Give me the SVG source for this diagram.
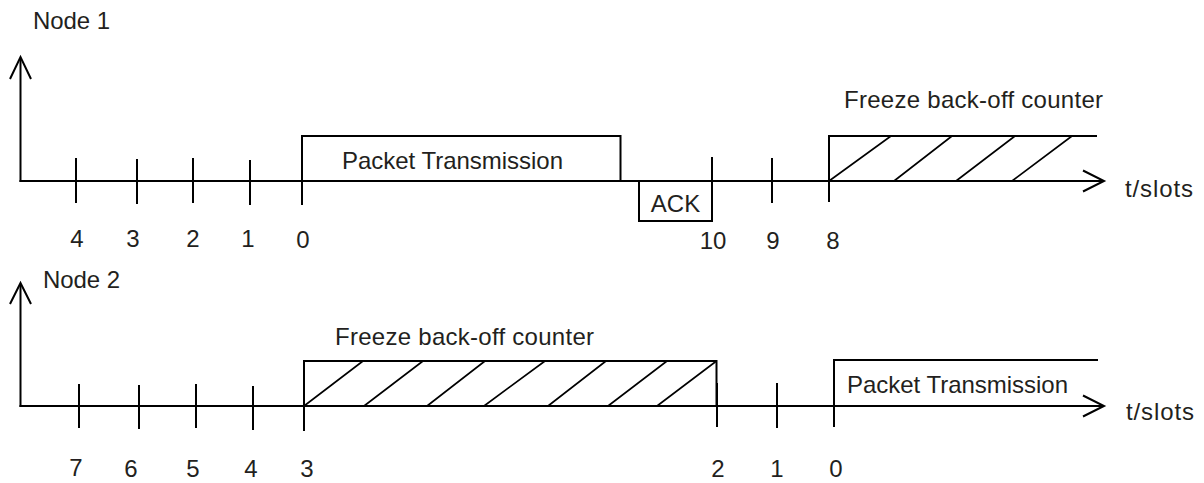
<svg xmlns="http://www.w3.org/2000/svg" width="1204" height="483" viewBox="0 0 1204 483">
  <style>
    text { font-family: "Liberation Sans", Arial, sans-serif; font-size: 24px; fill: #231f20; }
    .num { text-anchor: middle; }
    .ln { stroke: #000; stroke-width: 2; fill: none; }
    .hatch { stroke: #000; stroke-width: 1.6; fill: none; }
    .head { stroke: #000; stroke-width: 2; fill: none; stroke-linejoin: miter; }
  </style>
  <rect width="1204" height="483" fill="#fff"/>

  <!-- time axes with open arrowheads -->
  <g id="connectors">
    <line class="ln" x1="20.5" y1="182" x2="20.5" y2="58"/>
    <polyline class="head" points="10,79 20.5,57 31,79"/>
    <line class="ln" x1="19.5" y1="181" x2="1103" y2="181"/>
    <polyline class="head" points="1083,170.5 1104,181 1083,191.5"/>

    <line class="ln" x1="20.5" y1="407" x2="20.5" y2="284"/>
    <polyline class="head" points="10,304 20.5,283 31,304"/>
    <line class="ln" x1="19.5" y1="406" x2="1103" y2="406"/>
    <polyline class="head" points="1083,395.5 1104,406 1083,416.5"/>
  </g>

  <!-- Node 1 timeline -->
  <g id="node1-label"><text x="33" y="29" textLength="77">Node 1</text></g>
  <g id="node1-ticks">
    <line class="ln" x1="76" y1="158" x2="76" y2="203"/>
    <line class="ln" x1="137" y1="159" x2="137" y2="204"/>
    <line class="ln" x1="193" y1="158" x2="193" y2="203"/>
    <line class="ln" x1="250" y1="160" x2="250" y2="205"/>
    <line class="ln" x1="302" y1="161" x2="302" y2="205"/>
    <line class="ln" x1="712" y1="157" x2="712" y2="181"/>
    <line class="ln" x1="772" y1="158" x2="772" y2="203"/>
    <line class="ln" x1="829" y1="157" x2="829" y2="202"/>
    <text class="num" x="77" y="247">4</text>
    <text class="num" x="133" y="247">3</text>
    <text class="num" x="193" y="247">2</text>
    <text class="num" x="248" y="247">1</text>
    <text class="num" x="303" y="248">0</text>
    <text class="num" x="713" y="249">10</text>
    <text class="num" x="773" y="249">9</text>
    <text class="num" x="833" y="249">8</text>
  </g>
  <g id="node1-packet">
    <rect class="ln" x="302" y="136" width="318.5" height="45"/>
    <text x="342" y="169" textLength="221">Packet Transmission</text>
  </g>
  <g id="node1-ack">
    <rect class="ln" x="639" y="181" width="73" height="40"/>
    <text class="num" x="675.5" y="212" font-size="22">ACK</text>
  </g>
  <g id="node1-freeze">
    <path class="ln" d="M829,181 V136 H1097"/>
    <path class="hatch" d="M829,181 L891,136 M894,181 L952,136 M956,181 L1015,136 M1012,181 L1072,136"/>
    <text x="844" y="108" textLength="259">Freeze back-off counter</text>
  </g>
  <g id="node1-axis-label"><text x="1125" y="197" textLength="68">t/slots</text></g>

  <!-- Node 2 timeline -->
  <g id="node2-label"><text x="43" y="288" textLength="77">Node 2</text></g>
  <g id="node2-ticks">
    <line class="ln" x1="79" y1="384" x2="79" y2="428"/>
    <line class="ln" x1="139" y1="385" x2="139" y2="429"/>
    <line class="ln" x1="196" y1="384" x2="196" y2="428"/>
    <line class="ln" x1="253" y1="386" x2="253" y2="430"/>
    <line class="ln" x1="304" y1="387" x2="304" y2="431"/>
    <line class="ln" x1="717" y1="383" x2="717" y2="427"/>
    <line class="ln" x1="777" y1="383" x2="777" y2="428"/>
    <line class="ln" x1="834" y1="384" x2="834" y2="427"/>
    <text class="num" x="76" y="476">7</text>
    <text class="num" x="131" y="477">6</text>
    <text class="num" x="193" y="477">5</text>
    <text class="num" x="251" y="477">4</text>
    <text class="num" x="307" y="477">3</text>
    <text class="num" x="718" y="477">2</text>
    <text class="num" x="777" y="477">1</text>
    <text class="num" x="836" y="477">0</text>
  </g>
  <g id="node2-freeze">
    <rect class="ln" x="304" y="361" width="412.5" height="45"/>
    <path class="hatch" d="M304,406 L363,361 M364,406 L423,361 M427,406 L485,361 M484,406 L545,361 M548,406 L606,361 M608,406 L667,361 M657,406 L716.5,361"/>
    <text x="335" y="345" textLength="259">Freeze back-off counter</text>
  </g>
  <g id="node2-packet">
    <path class="ln" d="M834,406 V360 H1098"/>
    <text x="847" y="393" textLength="221">Packet Transmission</text>
  </g>
  <g id="node2-axis-label"><text x="1126" y="420" textLength="68">t/slots</text></g>
</svg>
